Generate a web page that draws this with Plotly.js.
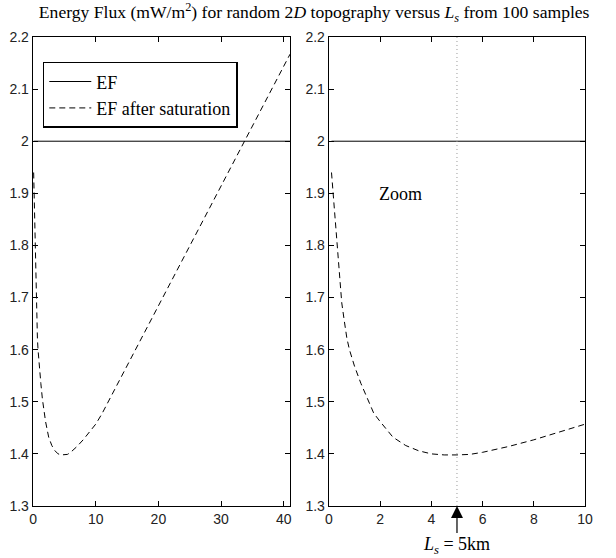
<!DOCTYPE html>
<html>
<head>
<meta charset="utf-8">
<script src="https://cdn.plot.ly/plotly-3.0.1.min.js"></script>
<style>html,body{margin:0;padding:0;background:#fff;}#chart{width:616px;height:558px;}</style>
</head>
<body>
<div id="chart"></div>
<script>
// Correlation length L_s (km)
const Ls = [0.1,0.2,0.3,0.4,0.5,0.6,0.7,0.8,0.9,1,1.25,1.5,1.75,2,2.5,3,3.5,4,4.5,5,5.5,6,7,8,9,10,11,12,14,16,18,20,22,24,26,28,30,32,34,36,38,40,41];
// Energy flux (mW/m^2)
const efSat = [1.94,1.88,1.82,1.755,1.69,1.655,1.622,1.60,1.582,1.568,1.535,1.505,1.478,1.462,1.432,1.416,1.406,1.400,1.398,1.398,1.399,1.403,1.414,1.427,1.442,1.457,1.477,1.50,1.546,1.592,1.638,1.684,1.730,1.776,1.822,1.868,1.914,1.960,2.006,2.052,2.098,2.144,2.167];
const ef = Ls.map(() => 2.0);
const yTickVals = [1.3,1.4,1.5,1.6,1.7,1.8,1.9,2.0,2.1,2.2];
const yTickText = ['1.3','1.4','1.5','1.6','1.7','1.8','1.9','2','2.1','2.2'];
const xTicksLeft = [0,10,20,30,40];
const xTicksRight = [0,2,4,6,8,10];
const markerLs = 5;

const serif = '"Liberation Serif", "Times New Roman", serif';
const sans = '"Liberation Sans", Arial, sans-serif';

const traces = [
  {x: Ls, y: ef, xaxis:'x', yaxis:'y', mode:'lines', name:'EF', line:{color:'#000', width:1}},
  {x: Ls, y: efSat, xaxis:'x', yaxis:'y', mode:'lines', name:'EF after saturation', line:{color:'#000', width:1, dash:'6px,4px'}},
  {x: Ls, y: ef, xaxis:'x2', yaxis:'y2', mode:'lines', showlegend:false, line:{color:'#000', width:1}},
  {x: Ls, y: efSat, xaxis:'x2', yaxis:'y2', mode:'lines', showlegend:false, line:{color:'#000', width:1, dash:'6px,4px'}},
  {x: [markerLs, markerLs], y: [1.3, 2.2], xaxis:'x2', yaxis:'y2', mode:'lines', showlegend:false, line:{color:'#999', width:1, dash:'1px,3px'}}
];

const axBase = {
  showgrid:false, zeroline:false, showline:true, mirror:'ticks', linecolor:'#000', linewidth:1.3,
  ticks:'inside', ticklen:5, tickwidth:1, tickcolor:'#000',
  tickfont:{family:sans, size:14, color:'#222'}
};

const layout = {
  width:616, height:558,
  margin:{l:0,r:0,t:0,b:0},
  paper_bgcolor:'#fff', plot_bgcolor:'#fff',
  title:{text:'Energy Flux (mW/m<sup>2</sup>) for random 2<i>D</i> topography versus <i>L<sub>s</sub></i> from 100 samples',
         font:{family:serif, size:17.6, color:'#000'}, x:0.51, xanchor:'center', y:0.978, yanchor:'middle'},
  xaxis: Object.assign({}, axBase, {domain:[0.0536,0.4708], range:[0,41], tickvals:xTicksLeft, anchor:'y'}),
  yaxis: Object.assign({}, axBase, {domain:[0.0932,0.9337], range:[1.3,2.2], tickvals:yTickVals, ticktext:yTickText, anchor:'x'}),
  xaxis2: Object.assign({}, axBase, {domain:[0.534,0.9497], range:[0,10], tickvals:xTicksRight, anchor:'y2'}),
  yaxis2: Object.assign({}, axBase, {domain:[0.0932,0.9337], range:[1.3,2.2], tickvals:yTickVals, ticktext:yTickText, anchor:'x2'}),
  showlegend:true,
  legend:{x:0.0693, y:0.8894, xanchor:'left', yanchor:'top', bgcolor:'#fff', bordercolor:'#000', borderwidth:1.6,
          itemwidth:42, font:{family:serif, size:18, color:'#000'}},
  annotations:[
    {xref:'x2', yref:'y2', x:2.8, y:1.898, text:'Zoom', showarrow:false, font:{family:serif, size:18, color:'#000'}},
    {xref:'x2', yref:'y2', x:markerLs, y:1.3, text:'<i>L<sub>s</sub></i> = 5km', showarrow:true,
     ax:0, ay:40, arrowhead:2, arrowsize:2, arrowwidth:1.2, arrowcolor:'#000', standoff:0,
     font:{family:serif, size:18, color:'#000'}}
  ]
};

Plotly.newPlot('chart', traces, layout, {displayModeBar:false, staticPlot:true});
</script>
</body>
</html>
